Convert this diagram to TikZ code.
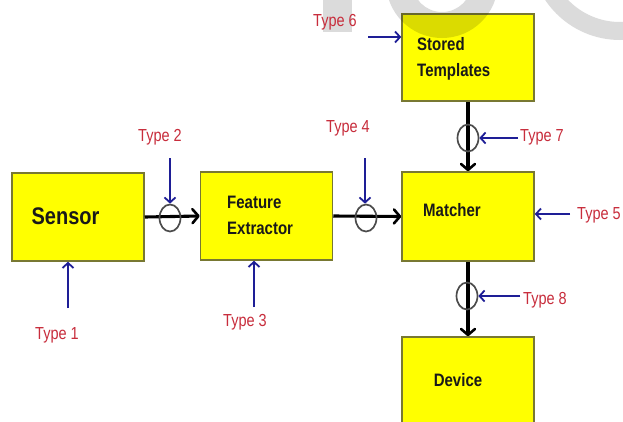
\documentclass[tikz,border=0pt]{standalone}
\usepackage{fontspec}
\setmainfont{Liberation Sans}
\usetikzlibrary{arrows.meta,shapes.geometric}
\definecolor{boxfill}{RGB}{255,255,0}
\definecolor{boxline}{RGB}{120,120,50}
\definecolor{probe}{RGB}{30,30,150}
\definecolor{labelred}{RGB}{200,45,60}
% slightly tall lettering
\newcommand{\tallText}[1]{\scalebox{1}[1.2]{#1}}
\newcommand{\twoLines}[2]{\tallText{\begin{tabular}{@{}l@{}}#1\\#2\end{tabular}}}

\begin{document}
\begin{tikzpicture}[x=1pt,y=-1pt,
  block/.style={rectangle, draw=boxline, line width=1.5pt, fill=boxfill,
    inner sep=0pt, minimum width=132pt},
  blocktext/.style={inner sep=0pt, text=black!90,
    font=\bfseries\fontsize{15}{21.5}\selectfont},
  tag/.style={inner sep=0pt, text=labelred, font=\fontsize{14.5}{17}\selectfont},
  flow/.style={draw=black, line width=3.1pt,
    -{Straight Barb[length=6pt,width=14pt,line width=2.6pt,round]}},
  probeline/.style={draw=probe, line width=2pt,
    -{Straight Barb[length=5pt,width=11pt,line width=1.8pt]}},
  tap/.style={ellipse, draw=black!70, line width=1.7pt, inner sep=0pt,
    minimum width=21pt, minimum height=27pt},
]
\clip (0,0) rectangle (623,421);
\fill[white] (0,0) rectangle (623,421);

% processing blocks
\node[block, minimum height=88pt] (sensor)  at (78,217)    {};
\node[block, minimum height=88pt] (feature) at (266.5,216) {};
\node[block, minimum height=87pt] (stored)  at (468,57.5)  {};
\node[block, minimum height=89pt] (matcher) at (468,216.5) {};
\node[block, minimum height=93pt] (device)  at (468,383.5) {};

% faint grey lettering across the top
\fill[black, opacity=0.14] (323,-5) rectangle (352,32);
\fill[black, opacity=0.14, even odd rule]
  (442,-18) circle[radius=56] (442,-18) circle[radius=30];
\fill[black, opacity=0.14, even odd rule]
  (620,-50) circle[radius=90] (620,-50) circle[radius=72];

% block captions
\node[blocktext, font=\bfseries\fontsize{20}{24}\selectfont] (sensortxt) at (65.5,216) {\tallText{Sensor}};
\node[blocktext, anchor=west] (featuretxt) at (227,216) {\twoLines{Feature}{Extractor}};
\node[blocktext, anchor=west] (storedtxt) at (417,58) {\twoLines{Stored}{Templates}};
\node[blocktext] (matchertxt) at (452,210) {\tallText{Matcher}};
\node[blocktext] (devicetxt) at (458,380) {\tallText{Device}};

% data flow
\draw[flow] (sensor.east) -- (feature.west);
\draw[flow] (feature.east) -- (matcher.west);
\draw[flow] (stored.south) -- (matcher.north);
\draw[flow] (matcher.south) -- (device.north);

% channel taps
\node[tap] (c2) at (170,218) {};
\node[tap] (c4) at (366,218) {};
\node[tap] (c7) at (468,138) {};
\node[tap] (c8) at (467,296) {};

% attack points
\coordinate (p1) at (68,308);
\coordinate (p2) at (170,158);
\coordinate (p3) at (254,307);
\coordinate (p4) at (365,158);
\coordinate (p5) at (570,214);
\coordinate (p6) at (368,37);
\coordinate (p7) at (518,138);
\coordinate (p8) at (520,296);

\draw[probeline] (p1) -- (p1 |- sensor.south);
\draw[probeline] (p2) -- (c2.north);
\draw[probeline] (p3) -- (p3 |- feature.south);
\draw[probeline] (p4) -- (p4 |- c4.north);
\draw[probeline] (p5) -- (p5 -| matcher.east);
\draw[probeline] (p6) -- (p6 -| stored.west);
\draw[probeline] (p7) -- (c7.east);
\draw[probeline] (p8) -- (c8.east);

\node[tag] (t1) at (57,335)  {\tallText{Type 1}};
\node[tag] (t2) at (160,137) {\tallText{Type 2}};
\node[tag] (t3) at (245,322) {\tallText{Type 3}};
\node[tag] (t4) at (348,128) {\tallText{Type 4}};
\node[tag] (t5) at (599,215) {\tallText{Type 5}};
\node[tag] (t6) at (335,22)  {\tallText{Type 6}};
\node[tag] (t7) at (542,137) {\tallText{Type 7}};
\node[tag] (t8) at (545,300) {\tallText{Type 8}};
\end{tikzpicture}
\end{document}
